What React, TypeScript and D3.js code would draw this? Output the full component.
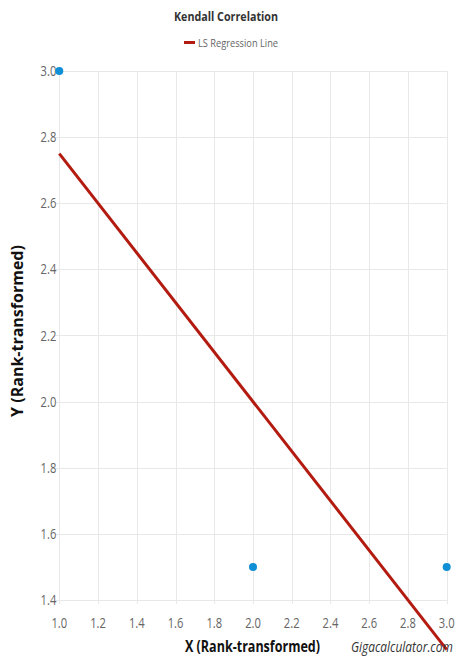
import React from "react";
import * as d3 from "d3";

const title = "Kendall Correlation";
const legendLabel = "LS Regression Line";
const xTitle = "X (Rank-transformed)";
const yTitle = "Y (Rank-transformed)";
const credit = "Gigacalculator.com";

const pointsX = [1, 2, 3];
const pointsY = [3, 1.5, 1.5];
const xTicks = [1.0, 1.2, 1.4, 1.6, 1.8, 2.0, 2.2, 2.4, 2.6, 2.8, 3.0];
const yTicks = [1.4, 1.6, 1.8, 2.0, 2.2, 2.4, 2.6, 2.8, 3.0];
const regX = [1, 3];
const regY = [2.75, 1.25];

const W = 456;
const H = 659;
const left = 59.3;
const right = 446.7;
const top = 71;
const bottom = 600;

export default function App() {
  const x = d3.scaleLinear().domain([1, 3]).range([left, right]);
  const y = d3.scaleLinear().domain([1.4, 3.0]).range([bottom, top]);
  const line = d3
    .line<number>()
    .x((d, i) => x(regX[i]))
    .y((d) => y(d));
  const font = "'Open Sans', 'DejaVu Sans', sans-serif";
  const sx = 0.8;
  return (
    <svg
      width={W}
      height={H}
      style={{ position: "absolute", left: 0, top: 0, background: "#fff" }}
      fontFamily={font}
    >
      <rect width={W} height={H} fill="#fff" />
      {/* grid */}
      {xTicks.map((t, i) => (
        <line
          key={"gx" + i}
          x1={Math.round(x(t)) + 0.5}
          x2={Math.round(x(t)) + 0.5}
          y1={top}
          y2={bottom + 4}
          stroke="#e8e8e8"
          strokeWidth={1}
        />
      ))}
      {yTicks.map((t, i) => (
        <line
          key={"gy" + i}
          x1={left - 4}
          x2={right}
          y1={Math.round(y(t)) + 0.5}
          y2={Math.round(y(t)) + 0.5}
          stroke="#e8e8e8"
          strokeWidth={1}
        />
      ))}
      {/* y tick labels */}
      {yTicks.map((t, i) => (
        <text
          key={"ty" + i}
          transform={`translate(${left - 3},${y(t) + 5}) scale(${sx},1)`}
          textAnchor="end"
          fontSize={14}
          fill="#666"
        >
          {d3.format(".1f")(t)}
        </text>
      ))}
      {/* x tick labels */}
      {xTicks.map((t, i) => (
        <text
          key={"tx" + i}
          transform={`translate(${x(t)},${627.5}) scale(${sx},1)`}
          textAnchor="middle"
          fontSize={14}
          fill="#666"
        >
          {d3.format(".1f")(t)}
        </text>
      ))}
      {/* points */}
      {pointsX.map((px, i) => (
        <circle key={"p" + i} cx={x(px)} cy={y(pointsY[i])} r={4} fill="#0f8fd5" />
      ))}
      {/* regression line */}
      <path d={line(regY) || ""} fill="none" stroke="#b31b10" strokeWidth={3} />
      {/* title */}
      <text
        x={174}
        y={21}
        fontSize={12.5}
        fontWeight="bold"
        fill="#333"
        textLength={104}
        lengthAdjust="spacingAndGlyphs"
      >
        {title}
      </text>
      {/* legend */}
      <line x1={184} x2={195} y1={42.5} y2={42.5} stroke="#b31b10" strokeWidth={3} />
      <text
        x={198}
        y={46.5}
        fontSize={11.5}
        fill="#666"
        textLength={80}
        lengthAdjust="spacingAndGlyphs"
      >
        {legendLabel}
      </text>
      {/* axis titles */}
      <text
        x={185}
        y={652}
        fontSize={16}
        fontWeight="bold"
        fill="#111"
        textLength={135}
        lengthAdjust="spacingAndGlyphs"
      >
        {xTitle}
      </text>
      <text
        transform={`translate(23,${331}) rotate(-90)`}
        textAnchor="middle"
        fontSize={16}
        fontWeight="bold"
        fill="#111"
      >
        {yTitle}
      </text>
      <text
        transform="translate(351,652) scale(0.85,1)"
        fontSize={14}
        fontStyle="italic"
        fill="#333"
      >
        {credit}
      </text>
    </svg>
  );
}
